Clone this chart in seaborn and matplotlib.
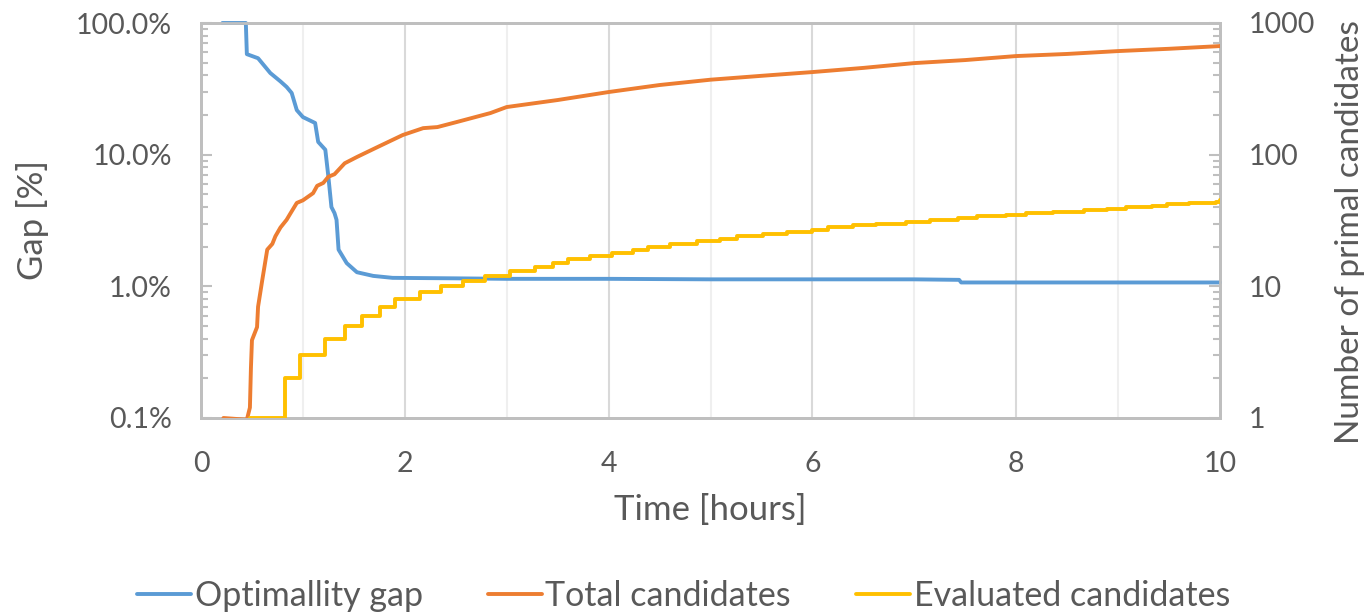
import numpy as np
import pandas as pd
import matplotlib
matplotlib.use('Agg')
import matplotlib.pyplot as plt
import seaborn as sns
from matplotlib.ticker import FixedLocator, FuncFormatter, NullFormatter

# Optimality gap [%] over time [hours]
gap_time = [0.21, 0.44, 0.45, 0.56, 0.68, 0.78, 0.84, 0.89, 0.94, 1.00, 1.12, 1.15,
            1.22, 1.25, 1.28, 1.31, 1.33, 1.35, 1.43, 1.53, 1.69, 1.88, 2.5, 3.0,
            4.0, 5.0, 6.0, 7.0, 7.44, 7.46, 8.0, 9.0, 10.0]
gap_pct = [100, 100, 58, 54, 41.7, 36, 32.7, 29.4, 21.8, 19.3, 17.4, 12.5,
           10.9, 6.8, 4.0, 3.6, 3.2, 1.9, 1.5, 1.28, 1.2, 1.16, 1.15, 1.14,
           1.14, 1.13, 1.13, 1.13, 1.12, 1.07, 1.07, 1.07, 1.07]

# Total candidates over time
total_time = [0.22, 0.45, 0.48, 0.49, 0.50, 0.55, 0.56, 0.60, 0.65, 0.70, 0.73, 0.78,
              0.84, 0.87, 0.94, 1.00, 1.10, 1.14, 1.20, 1.25, 1.31, 1.41, 1.53, 1.73,
              1.98, 2.18, 2.32, 2.51, 2.84, 3.0, 3.5, 4.0, 4.5, 5.0, 5.5, 6.0, 6.5,
              7.0, 7.5, 8.0, 8.5, 9.0, 9.5, 10.0]
total_count = [1.0, 0.97, 1.2, 2.4, 3.9, 4.9, 7.0, 11, 19, 21, 24, 28,
               32, 35, 43, 45, 51, 58, 61, 68, 71, 86, 96, 114,
               141, 159, 162, 177, 207, 230, 260, 299, 338, 371, 397, 424, 456,
               496, 523, 561, 582, 612, 637, 668]

# Evaluated candidates (step function)
eval_time = [0.48, 0.82, 0.97, 1.22, 1.41, 1.58, 1.76, 1.90, 2.15, 2.36, 2.57, 2.79,
             3.03, 3.28, 3.45, 3.60, 3.82, 4.03, 4.24, 4.39, 4.60, 4.87, 5.09, 5.26,
             5.52, 5.75, 6.00, 6.15, 6.40, 6.62, 6.92, 7.15, 7.43, 7.62, 7.90, 8.10,
             8.36, 8.67, 8.89, 9.08, 9.33, 9.48, 9.70, 9.96, 10.0]
eval_count = [1, 2, 3, 4, 5, 6, 7, 8, 9, 10, 11, 12,
              13, 14, 15, 16, 17, 18, 19, 20, 21, 22, 23, 24,
              25, 26, 27, 28, 29, 30, 31, 32, 33, 34, 35, 36,
              37, 38, 39, 40, 41, 42, 43, 44, 45]

BLUE = '#5B9BD5'
ORANGE = '#ED7D31'
YELLOW = '#FFC000'
TEXT = '#595959'
SPINE = '#BFBFBF'

sns.set_theme(style='white')
plt.rcParams['font.family'] = ['Lato', 'DejaVu Sans']
plt.rcParams['text.color'] = TEXT
plt.rcParams['axes.labelcolor'] = TEXT
plt.rcParams['xtick.color'] = TEXT
plt.rcParams['ytick.color'] = TEXT

fig = plt.figure(figsize=(13.67, 6.14), dpi=100)
ax = fig.add_axes([201 / 1367, 1 - 418 / 614, 1019 / 1367, 395 / 614])
ax2 = ax.twinx()

df_gap = pd.DataFrame({'t': gap_time, 'v': gap_pct})
df_tot = pd.DataFrame({'t': total_time, 'v': total_count})
df_eval = pd.DataFrame({'t': eval_time, 'v': eval_count})

# vertical grid
for x in range(1, 10):
    ax.axvline(x, color='#D9D9D9' if x % 2 == 0 else '#EFEFEF', lw=1.5, zorder=0)

sns.lineplot(data=df_gap, x='t', y='v', ax=ax, color=BLUE, lw=2.8,
             sort=False, estimator=None, clip_on=False, zorder=3)
sns.lineplot(data=df_tot, x='t', y='v', ax=ax2, color=ORANGE, lw=2.8,
             sort=False, estimator=None, zorder=3)
sns.lineplot(data=df_eval, x='t', y='v', ax=ax2, color=YELLOW, lw=2.8,
             sort=False, estimator=None, drawstyle='steps-post', zorder=3)

ax.set_yscale('log')
ax2.set_yscale('log')
ax.set_ylim(0.1, 100)
ax2.set_ylim(1, 1000)
ax.set_xlim(0, 10)
ax.set_xticks([0, 2, 4, 6, 8, 10])
ax.tick_params(axis='x', length=0, labelsize=20.5, pad=24)

ax.yaxis.set_major_locator(FixedLocator([0.1, 1, 10, 100]))
ax.yaxis.set_major_formatter(FuncFormatter(lambda v, p: f'{v:.1f}%'))
ax.yaxis.set_minor_formatter(NullFormatter())
ax.tick_params(axis='y', which='major', direction='in', length=8, width=1.5,
               color=SPINE, labelsize=20.5, pad=21)
ax.tick_params(axis='y', which='minor', direction='in', length=5, width=1.5, color=SPINE)

ax2.yaxis.set_major_locator(FixedLocator([1, 10, 100, 1000]))
ax2.yaxis.set_major_formatter(FuncFormatter(lambda v, p: f'{int(v)}'))
ax2.yaxis.set_minor_formatter(NullFormatter())
ax2.tick_params(axis='y', which='major', direction='in', length=8, width=1.5,
                color=SPINE, labelsize=20.5, pad=21)
ax2.tick_params(axis='y', which='minor', direction='in', length=5, width=1.5, color=SPINE)

for a in (ax, ax2):
    for s in a.spines.values():
        s.set_color(SPINE)
        s.set_linewidth(2)

ax.set_xlabel('Time [hours]', fontsize=25, labelpad=12)
ax.set_ylabel('Gap [%]', fontsize=25)
ax.yaxis.set_label_coords(-0.149, 0.5)
ax2.set_ylabel('Number of primal candidates', fontsize=24)
ax2.yaxis.set_label_coords(1.113, 0.47)

handles = [plt.Line2D([], [], color=c, lw=2.8) for c in (BLUE, ORANGE, YELLOW)]
fig.legend(handles, ['Optimallity gap', 'Total candidates', 'Evaluated candidates'],
           loc='center', bbox_to_anchor=(0.5, 1 - 596 / 614), ncol=3, frameon=False,
           fontsize=24.5, handlelength=1.6, handletextpad=0.1, columnspacing=1.9)

fig.savefig('out.png', dpi=100)
plt.close(fig)
